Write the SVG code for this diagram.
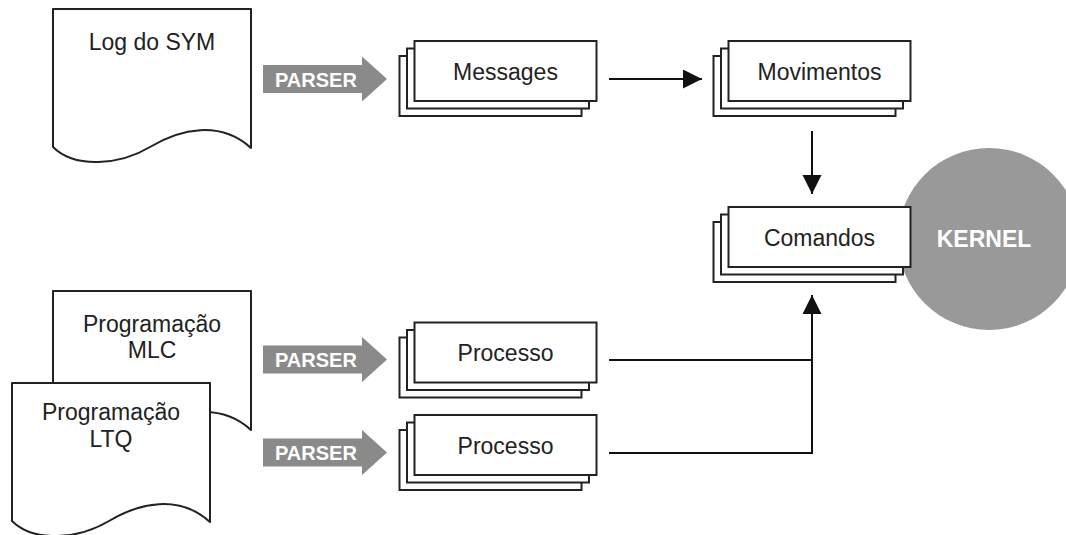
<svg xmlns="http://www.w3.org/2000/svg" width="1066" height="535" viewBox="0 0 1066 535">
<style>
.doc{fill:#fff;stroke:#222;stroke-width:2;stroke-linejoin:round}
.box{fill:#fff;stroke:#222;stroke-width:2}
.lbl{font-family:"Liberation Sans",Arial,sans-serif;font-size:23px;fill:#222;text-anchor:middle}
.parser{fill:#8a8a8a}
.ptxt{font-family:"Liberation Sans",Arial,sans-serif;font-size:20px;font-weight:bold;fill:#fff}
.conn{fill:none;stroke:#111;stroke-width:2}
</style>
<defs>
<marker id="ah" markerUnits="userSpaceOnUse" markerWidth="20" markerHeight="20" refX="19" refY="9.5" orient="auto">
<path d="M0,0 L19,9.5 L0,19 Z" fill="#111"/>
</marker>
<path id="docshape" d="M0,0 H198 V139 C167,111 127,120 97,138 C67,156 22,160 0,138 Z"/>
<g id="stackshape">
<rect x="-15" y="15" width="182" height="60"/>
<rect x="-7.5" y="7.5" width="182" height="60"/>
<rect x="0" y="0" width="182" height="60"/>
</g>
</defs>

<g id="kernel">
<circle cx="989" cy="239" r="91" fill="#999"/>
<text x="984" y="247" font-family="Liberation Sans,Arial,sans-serif" font-size="23" font-weight="bold" fill="#fff" text-anchor="middle">KERNEL</text>
</g>

<g id="log-sym">
<use href="#docshape" class="doc" transform="translate(53,9)"/>
<text class="lbl" x="152" y="50">Log do SYM</text>
</g>

<g id="prog-mlc">
<use href="#docshape" class="doc" transform="translate(53,291)"/>
<text class="lbl" x="152" y="332">Programação</text>
<text class="lbl" x="152" y="358">MLC</text>
</g>

<g id="prog-ltq">
<use href="#docshape" class="doc" transform="translate(12,383)"/>
<text class="lbl" x="111" y="420">Programação</text>
<text class="lbl" x="111" y="447">LTQ</text>
</g>

<g id="parser1">
<path class="parser" d="M263,65 H362 V56.5 L387,79 L362,101.5 V93 H263 Z"/>
<text class="ptxt" x="275" y="86.5">PARSER</text>
</g>
<g id="parser2">
<path class="parser" d="M263,345.5 H362 V337 L387,359.5 L362,382 V373.5 H263 Z"/>
<text class="ptxt" x="275" y="367">PARSER</text>
</g>
<g id="parser3">
<path class="parser" d="M263,438.5 H362 V430 L387,452.5 L362,475 V466.5 H263 Z"/>
<text class="ptxt" x="275" y="460">PARSER</text>
</g>

<g id="messages">
<use href="#stackshape" class="box" transform="translate(414.5,41)"/>
<text class="lbl" x="505.5" y="80">Messages</text>
</g>
<g id="movimentos">
<use href="#stackshape" class="box" transform="translate(728.5,41)"/>
<text class="lbl" x="819.5" y="80">Movimentos</text>
</g>
<g id="comandos">
<use href="#stackshape" class="box" transform="translate(728.5,207)"/>
<text class="lbl" x="819.5" y="246">Comandos</text>
</g>
<g id="processo1">
<use href="#stackshape" class="box" transform="translate(414.5,322.5)"/>
<text class="lbl" x="505.5" y="361">Processo</text>
</g>
<g id="processo2">
<use href="#stackshape" class="box" transform="translate(414.5,415)"/>
<text class="lbl" x="505.5" y="454">Processo</text>
</g>

<g id="connectors">
<line class="conn" x1="609" y1="79" x2="702" y2="79" marker-end="url(#ah)"/>
<line class="conn" x1="812" y1="131" x2="812" y2="194" marker-end="url(#ah)"/>
<line class="conn" x1="609" y1="360" x2="812" y2="360"/>
<polyline class="conn" points="609,453 812,453 812,295" marker-end="url(#ah)"/>
</g>
</svg>
